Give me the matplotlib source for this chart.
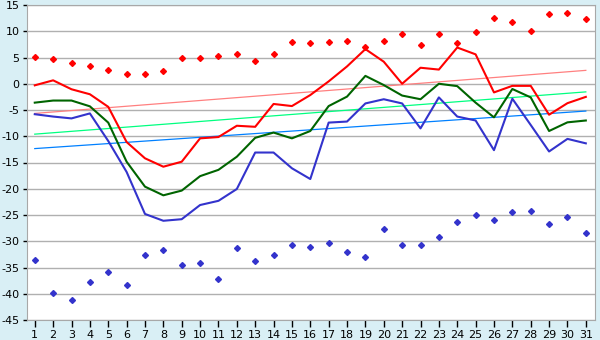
import matplotlib
matplotlib.use("Agg")
import matplotlib.pyplot as plt

days = list(range(1, 32))

red_line = [-0.3, 0.65, -1.05, -2.0, -4.4, -11.1, -14.2, -15.8, -14.85, -10.4,
            -10.15, -8.0, -8.2, -3.85, -4.25, -2.15, 0.45, 3.3, 6.6, 4.2,
            0.0, 3.05, 2.7, 6.9, 5.6, -1.65, -0.4, -0.4, -5.9, -3.7, -2.5]
green_line = [-3.6, -3.2, -3.2, -4.3, -7.4, -14.85, -19.6, -21.25, -20.35, -17.6,
              -16.4, -13.9, -10.3, -9.3, -10.4, -9.0, -4.25, -2.45, 1.5, -0.25,
              -2.25, -2.95, 0.0, -0.45, -3.6, -6.4, -1.0, -2.6, -9.0, -7.35, -7.0]
blue_line = [-5.8, -6.25, -6.6, -5.65, -10.9, -16.8, -24.8, -26.1, -25.8, -23.1,
             -22.3, -20.05, -13.1, -13.1, -16.1, -18.15, -7.4, -7.2, -3.75, -2.95,
             -3.75, -8.5, -2.6, -6.25, -7.0, -12.65, -2.85, -7.85, -12.9, -10.5, -11.35]
red_pts = [5.15, 4.65, 3.9, 3.3, 2.55, 1.8, 1.8, 2.35, 5.0, 4.85,
           5.2, 5.65, 4.25, 5.65, 7.9, 7.7, 7.9, 8.1, 7.0, 8.1,
           9.4, 7.3, 9.4, 7.7, 9.8, 12.45, 11.7, 10.0, 13.2, 13.4, 12.25]
blue_pts = [-33.6, -39.8, -41.25, -37.8, -35.9, -38.4, -32.7, -31.7, -34.6, -34.2,
            -37.25, -31.35, -33.8, -32.7, -30.8, -31.15, -30.4, -32.1, -33.05, -27.7,
            -30.8, -30.8, -29.25, -26.4, -25.05, -26.0, -24.5, -24.3, -26.8, -25.45, -28.5]

# trend lines: values at day 1 and day 31
trend_days = [1, 31]
red_trend = [-5.65, 2.55]
green_trend = [-9.6, -1.55]
blue_trend = [-12.35, -5.2]

yticks = list(range(-45, 16, 5))

plt.rcParams["axes.unicode_minus"] = False
plt.rcParams["font.family"] = "DejaVu Sans"

fig = plt.figure(figsize=(6, 3.4), dpi=100, facecolor="#d9eff5")
ax = fig.add_axes([26.5 / 600, 1 - 320 / 340, (595 - 26.5) / 600, 315 / 340])
ax.set_facecolor("white")

ax.plot(trend_days, red_trend, color="#ff8080", lw=0.9)
ax.plot(trend_days, green_trend, color="#00ff80", lw=0.9)
ax.plot(trend_days, blue_trend, color="#0080ff", lw=0.9)

ax.plot(days, red_line, color="#ff0000", lw=1.5)
ax.plot(days, green_line, color="#006400", lw=1.5)
ax.plot(days, blue_line, color="#3333cc", lw=1.5)

ax.plot(days, red_pts, ls="none", marker="D", ms=3, color="#ff0000")
ax.plot(days, blue_pts, ls="none", marker="D", ms=3, color="#3333cc")

ax.set_xlim(0.55, 31.5)
ax.set_ylim(-45, 15)
ax.set_xticks(days)
ax.set_yticks(yticks)
ax.grid(True, axis="y", color="#b0b0b0", lw=1)
ax.set_axisbelow(True)
for s in ax.spines.values():
    s.set_color("#a8a8a8")
ax.tick_params(axis="x", length=5, width=1, labelsize=8, pad=2)
ax.tick_params(axis="y", length=3, width=1, labelsize=8, pad=2)

fig.savefig("out.png", dpi=100, facecolor=fig.get_facecolor())
